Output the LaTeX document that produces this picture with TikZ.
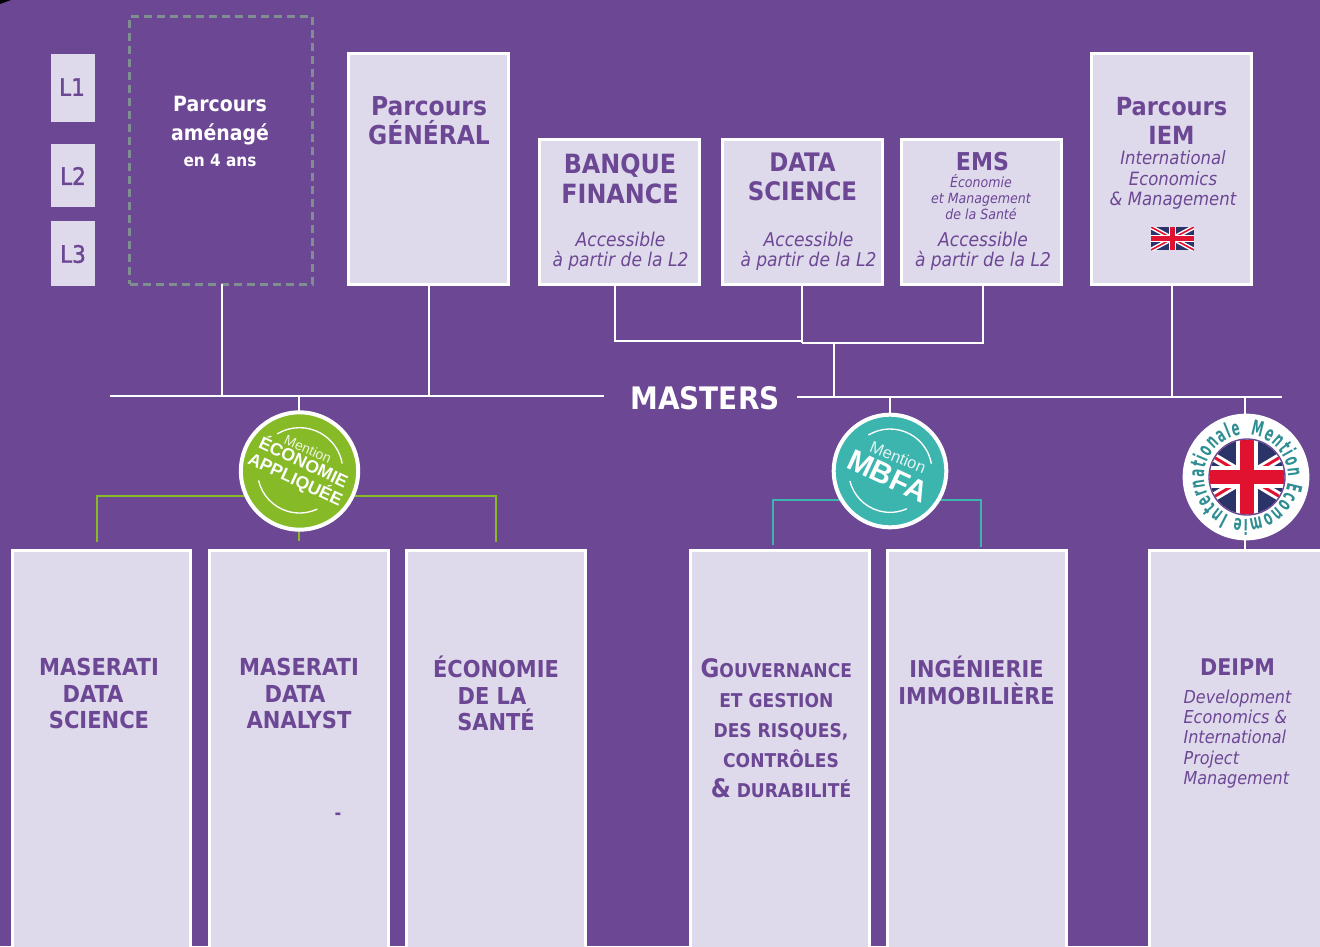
\documentclass[tikz,border=0pt]{standalone}
\usepackage{fontspec}
\setmainfont{DejaVu Sans Condensed}
\newfontfamily\hv{Liberation Sans}
\usetikzlibrary{decorations.text}
\definecolor{bgp}{HTML}{6C4794}
\definecolor{pale}{HTML}{DFD9EC}
\definecolor{leaf}{HTML}{86BA26}
\definecolor{teal1}{HTML}{3CB5AE}
\definecolor{teal2}{HTML}{2F8E93}
\definecolor{ukred}{HTML}{E0122F}
\definecolor{uknavy}{HTML}{2A3468}
\definecolor{dashc}{HTML}{7F8F90}
\newcommand{\fz}[2]{\fontsize{\fpeval{#1*0.75}pt}{\fpeval{#2*0.75}pt}\selectfont}
\newcommand{\pbox}[6][box]{\node[#1,minimum width={(#5-#3-2)*0.75pt},minimum height={(#6-#4-2)*0.75pt}] (#2) at ({(#3+#5)/2-0.7},{(#4+#6)/2-0.4}) {};}
\newcommand{\qbox}[6][plain]{\node[#1,minimum width={(#5-#3)*0.75pt},minimum height={(#6-#4)*0.75pt}] (#2) at ({(#3+#5)/2},{(#4+#6)/2}) {};}
\tikzset{
 x=0.75pt,y=-0.75pt,
 box/.style={draw=white,line width=2.25pt,fill=pale,inner sep=0pt,outer sep=0pt},
 plain/.style={fill=pale,inner sep=0pt,outer sep=0pt},
 dashbox/.style={draw=dashc,line width=2.25pt,dash pattern=on 6pt off 3.75pt,inner sep=0pt,outer sep=0pt},
 txt/.style={text=bgp,align=center,inner sep=0pt},
 lev/.style={txt,font=\addfontfeature{FakeBold=1.5}\fz{24}{28}},
 wtxt/.style={text=white,align=center,inner sep=0pt},
 wire/.style={draw=white,line width=2.1pt},
 gwire/.style={draw=leaf,line width=2.1pt},
 twire/.style={draw=teal1,line width=2.1pt},
 badge/.style={circle,draw=white,line width=3pt,inner sep=0pt,outer sep=0pt},
 swoosh/.style={draw=white,line width=1pt},
}
\begin{document}
\begin{tikzpicture}
\useasboundingbox (0,0) rectangle (1320,946);
\fill[bgp] (0,0) rectangle (1320,946);
\fill[black] (0,0) -- (11,0) -- (0,4) -- cycle;
% year boxes
\qbox{lone}{51}{54}{95}{122}
\qbox{ltwo}{51}{144}{95}{207}
\qbox{lthree}{51}{221}{95}{286}
\node[lev] (tone) at (72,87) {L1};
\node[lev] (ttwo) at (73,176) {L2};
\node[lev] (tthree) at (73,254) {L3};
% top boxes
\qbox[dashbox]{amen}{129.5}{16}{312}{284}
\pbox{gen}{348}{53}{510}{286}
\pbox{banq}{539}{139}{701}{286}
\pbox{data}{722}{139}{884}{286}
\pbox{ems}{901}{139}{1063}{286}
\pbox{iem}{1091}{53}{1253}{286}
\node[wtxt,font=\bfseries\fz{21}{29}] (tamen) at (220,121) {Parcours\\aménagé};
\node[wtxt,font=\bfseries\fz{17}{20}] (tamenb) at (220,160) {en 4 ans};
\node[txt,font=\bfseries\fz{26}{29}] (tgen) at (429,121) {Parcours\\GÉNÉRAL};
\node[txt,font=\bfseries\fz{26.5}{30}] (tbanq) at (620,179) {BANQUE\\FINANCE};
\node[txt,font=\itshape\fz{19}{20}] (tbanqb) at (620.5,251) {Accessible\\à partir de la L2};
\node[txt,font=\bfseries\fz{25.5}{29}] (tdata) at (802.5,177) {DATA\\SCIENCE};
\node[txt,font=\itshape\fz{19}{20}] (tdatab) at (808.5,251) {Accessible\\à partir de la L2};
\node[txt,font=\bfseries\fz{24.6}{26}] (tems) at (982.5,162) {EMS};
\node[txt,font=\itshape\fz{14}{16}] (temsb) at (981,197) {Économie\\et Management\\de la Santé};
\node[txt,font=\itshape\fz{19}{20}] (temsc) at (983,251) {Accessible\\à partir de la L2};
\node[txt,font=\bfseries\fz{25}{29}] (tiem) at (1171.5,121) {Parcours\\IEM};
\node[txt,font=\itshape\fz{18.3}{20.5}] (tiemb) at (1173,180) {International\\Economics\\\& Management};
% small flag
\begin{scope}
\clip (1151,227) rectangle (1194,250);
\fill[uknavy] (1151,227) rectangle (1194,250);
\draw[white,line width=3.4pt] (1151,227) -- (1194,250) (1151,250) -- (1194,227);
\draw[ukred,line width=1.2pt] (1151,227) -- (1194,250) (1151,250) -- (1194,227);
\draw[white,line width=5.6pt] (1172.5,227) -- (1172.5,250) (1151,238.5) -- (1194,238.5);
\draw[ukred,line width=3.2pt] (1172.5,227) -- (1172.5,250) (1151,238.5) -- (1194,238.5);
\end{scope}
% bottom boxes
\pbox{ba}{12}{550}{192}{965}
\pbox{bb}{209}{550}{390}{965}
\pbox{bc}{406}{550}{587}{965}
\pbox{bd}{690}{550}{871}{965}
\pbox{be}{887}{550}{1068}{965}
\pbox{bf}{1149}{550}{1345}{965}
\node[txt,font=\bfseries\fz{23.4}{26.5}] (ta) at (99,693.5) {MASERATI\\DATA\kern 9pt\\SCIENCE};
\node[txt,font=\bfseries\fz{23.4}{26.5}] (tb) at (299,693.5) {MASERATI\\DATA\kern 6pt\\ANALYST};
\node[txt,font=\bfseries\fz{18}{20}] (tbd) at (338,816) {-};
\node[txt,font=\bfseries\fz{23.3}{26.5}] (tc) at (496,693.5) {ÉCONOMIE\\DE LA\kern 6pt\\SANTÉ};
\node[txt,font=\bfseries\fz{19}{30}] (td) at (781,728) {{\fz{25.5}{30}G}OUVERNANCE\kern 7pt\\ET GESTION\kern 7pt\\DES RISQUES,\\CONTRÔLES\\{\fz{25.5}{30}\&} DURABILITÉ};
\node[txt,font=\bfseries\fz{23.2}{27}] (te) at (976.5,680) {INGÉNIERIE\\IMMOBILIÈRE};
\node[txt,font=\bfseries\fz{23}{24}] (tf) at (1237.5,667) {DEIPM};
\node[txt,align=left,font=\itshape\fz{17.8}{20.4}] (tfb) at (1237.5,739) {Development\\Economics \&\\International\\Project\\Management};
% masters bar
\node[wtxt,font=\bfseries\fz{31}{34}] (masters) at (705,398) {MASTERS};
\coordinate (mla) at (110,396);
\coordinate (mlb) at (604,396);
\coordinate (mrb) at (797,397);
\coordinate (mrc) at (1282,397);
\draw[wire] (mla) -- (mlb);
\draw[wire] (mrb) -- (mrc);
% top connectors
\coordinate (ja) at (222,396);
\coordinate (jb) at (429,396);
\coordinate (jc) at (834,397);
\coordinate (jd) at (1172,397);
\coordinate (he) at (615,341);
\coordinate (hd) at (802,341);
\coordinate (hg) at (802,343);
\coordinate (hc) at (834,343);
\coordinate (hf) at (983,343);
\draw[wire] (amen.south -| ja) -- (ja);
\draw[wire] (gen.south -| jb) -- (jb);
\draw[wire] (iem.south -| jd) -- (jd);
\draw[wire] (banq.south -| he) -- (he) -- (hd);
\draw[wire] (hg) -- (hf) -- (ems.south -| hf);
\draw[wire] (data.south -| hd) -- (hg);
\draw[wire] (hc) -- (jc);
% green badge and wires
\coordinate (ga) at (97,496);
\coordinate (gb) at (496,496);
\coordinate (gad) at (97,542);
\coordinate (gbd) at (496,542);
\coordinate (gcd) at (299,541);
\coordinate (gtop) at (299,396);
\coordinate (gcu) at (299,520);
\draw[gwire] (gad) -- (ga) -- (gb) -- (gbd);
\draw[gwire] (gcu) -- (gcd);
\draw[wire] (gtop) -- (299,420);
\node[badge,fill=leaf,minimum size=88pt] (ea) at (299.5,471) {};
\draw[swoosh] ([shift={(121:32.5pt)}]ea.center) arc[start angle=121,end angle=10,radius=32.5pt];
\draw[swoosh] ([shift={(193:31.5pt)}]ea.center) arc[start angle=193,end angle=295,radius=31.5pt];
\node[text=white!85!leaf,inner sep=0pt,rotate=-24,font=\hv\fz{14}{14}] (eam) at (308,449) {Mention};
\node[text=white,inner sep=0pt,rotate=-25,align=center,font=\hv\bfseries\fz{17.6}{19}] (eat) at (299.5,471) {ÉCONOMIE\\APPLIQUÉE};
% teal badge and wires
\coordinate (ta1) at (773,500);
\coordinate (tb1) at (981,500);
\coordinate (ta2) at (773,545);
\coordinate (tb2) at (981,547);
\coordinate (mtop) at (890,397);
\draw[twire] (ta2) -- (ta1) -- (tb1) -- (tb2);
\draw[wire] (mtop) -- (890,420);
\node[badge,fill=teal1,minimum size=84.5pt] (eb) at (890,471) {};
\draw[swoosh] ([shift={(121:31.5pt)}]eb.center) arc[start angle=121,end angle=10,radius=31.5pt];
\draw[swoosh] ([shift={(194:31pt)}]eb.center) arc[start angle=194,end angle=294,radius=31pt];
\node[text=white!85!teal1,inner sep=0pt,rotate=-22,font=\hv\fz{16.5}{17}] (ebm) at (898,457) {Mention};
\node[text=white,inner sep=0pt,rotate=-25,font=\hv\bfseries\fz{30}{30}] (ebt) at (888,476) {MBFA};
% UK badge
\coordinate (utop) at (1245,397);
\coordinate (ubot) at (1245,551);
\draw[wire] (utop) -- (1245,420);
\draw[wire] (1245,530) -- (ubot);
\begin{scope}
\clip (1170,400) rectangle (1310,560);
\node[circle,fill=white,minimum size=95pt,inner sep=0pt,outer sep=0pt] (ec) at (1246,477) {};
\end{scope}
\begin{scope}
\path[clip] (1247,477) circle[radius=28pt];
\fill[white] (1200,430) rectangle (1295,525);
\fill[uknavy] (1200,430) rectangle (1295,525);
\draw[white,line width=6.5pt] (1197,447) -- (1297,507) (1197,507) -- (1297,447);
\draw[ukred,line width=2.2pt] (1197,447) -- (1297,507) (1197,507) -- (1297,447);
\draw[white,line width=17pt] (1247,430) -- (1247,525) (1200,477) -- (1295,477);
\draw[ukred,line width=10pt] (1247,430) -- (1247,525) (1200,477) -- (1295,477);
\end{scope}
\draw[bgp,line width=1pt] (1247,477) circle[radius=28.5pt];
\path[decorate,decoration={text along path,text color=teal2,text align={fit to path},
 text={|\bfseries\addfontfeature{FakeStretch=0.62}\fz{21}{21}|Mention Economie Internationale}}]
 ([shift={(84:31.5pt)}]1246,477) arc[start angle=84,end angle=-263,radius=31.5pt];
\end{tikzpicture}
\end{document}
